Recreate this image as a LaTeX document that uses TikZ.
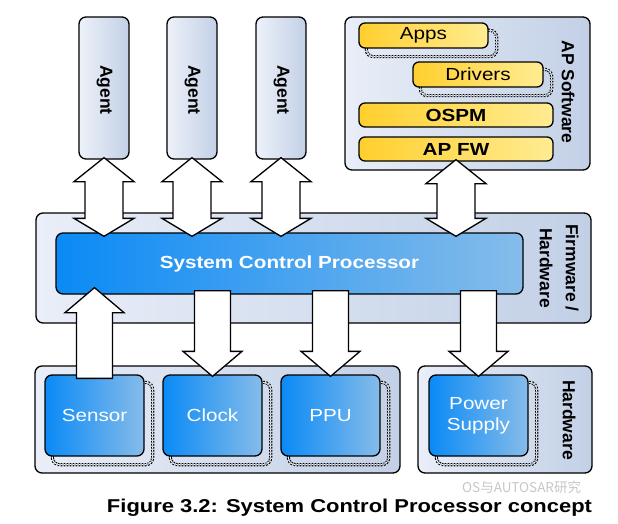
\documentclass[tikz,border=0pt]{standalone}
\usepackage{fontspec}
\setmainfont{Liberation Sans}
\newfontfamily\hfont{Liberation Sans}[FakeStretch=1.18]
\newfontfamily\cjk{Noto Sans CJK SC}
\usetikzlibrary{calc}
\definecolor{contL}{HTML}{E9EEF8}
\definecolor{contR}{HTML}{C2D0E6}
\definecolor{blueL}{HTML}{0A8AF5}
\definecolor{blueR}{HTML}{86BCEA}
\definecolor{yelL}{HTML}{FFCF2E}
\definecolor{yelR}{HTML}{FFEC92}
\pgfdeclarelayer{bg}
\pgfdeclarelayer{mid}
\pgfdeclarelayer{front}
\pgfsetlayers{bg,mid,main,front}
\newcommand{\dblarrow}[2]{%
  \draw[arrowshape] let \p1=(#1.south), \p2=(#2.north) in
    (\x1,\y1+2pt) -- (\x1+30pt,\y1-22pt) -- (\x1+19pt,\y1-22pt) -- (\x1+19pt,\y2+14pt)
    -- (\x1+30pt,\y2+14pt) -- (\x1,\y2-4pt) -- (\x1-30pt,\y2+14pt) -- (\x1-19pt,\y2+14pt)
    -- (\x1-19pt,\y1-22pt) -- (\x1-30pt,\y1-22pt) -- cycle;}
\newcommand{\downarrowshape}[2]{%
  \draw[arrowshape] let \p1=(#1.south), \p2=(#2.north) in
    (\x2-18pt,\y1+4pt) -- (\x2+18pt,\y1+4pt) -- (\x2+18pt,\y2+23pt) -- (\x2+29.5pt,\y2+23pt)
    -- (\x2,\y2-2pt) -- (\x2-29.5pt,\y2+23pt) -- (\x2-18pt,\y2+23pt) -- cycle;}
\newcommand{\uparrowshape}[2]{%
  \draw[arrowshape] let \p1=(#1.north), \p2=(#2.south) in
    (\x1-18pt,\y1-4pt) -- (\x1+18pt,\y1-4pt) -- (\x1+18pt,\y2-18pt) -- (\x1+29.5pt,\y2-18pt)
    -- (\x1,\y2+7pt) -- (\x1-29.5pt,\y2-18pt) -- (\x1-18pt,\y2-18pt) -- cycle;}
\newcommand{\shadowbox}[1]{%
  \draw[shadowline] ([shift={(8,8)}]#1.south west) rectangle ([shift={(8,8)}]#1.north east);}
\begin{document}
\begin{tikzpicture}[x=1pt,y=-1pt,
  box/.style={draw=black, line width=1.3pt, rounded corners=7pt, inner sep=0pt},
  cont/.style={box, left color=contL, right color=contR},
  agentbox/.style={box, left color=contL!80!white, right color=contR, minimum width=50pt, minimum height=142pt},
  bluebox/.style={box, left color=blueL, right color=blueR, text=white, font=\hfont\fontsize{17.5}{21}\selectfont, align=center},
  hwbox/.style={bluebox, minimum width=99pt, minimum height=81pt},
  yelbox/.style={box, rounded corners=6pt, left color=yelL, right color=yelR, font=\hfont\fontsize{17.5}{21}\selectfont},
  rot/.style={rotate=-90, font=\fontsize{17.5}{26}\selectfont\bfseries, align=center, inner sep=0pt},
  shadowline/.style={draw=black, line width=1.1pt, double=white, double distance=1pt, dash pattern=on 1.6pt off 1.4pt, rounded corners=7pt},
  arrowshape/.style={draw=black, fill=white, line width=1.3pt, line join=miter}]
\useasboundingbox (0,0) rectangle (618,524);

\begin{pgfonlayer}{bg}
\fill[white] (0,0) rectangle (618,524);
\node[cont, minimum width=245pt, minimum height=153pt] (apsw) at (467.5,93.5) {};
\node[cont, minimum width=555pt, minimum height=110pt] (fwhw) at (313.5,268) {};
\node[cont, minimum width=365pt, minimum height=107pt] (hwl) at (217.5,419.5) {};
\node[cont, minimum width=174pt, minimum height=107pt] (hwr) at (505,419.5) {};
\end{pgfonlayer}

% agents
\node[agentbox] (agent1) at (104,88) {};
\node[agentbox] (agent2) at (192,88) {};
\node[agentbox] (agent3) at (281,88) {};
\node[rot] (agent1t) at (104.5,90) {Agent};
\node[rot] (agent2t) at (192.5,90) {Agent};
\node[rot] (agent3t) at (281.5,90) {Agent};

% AP software
\node[yelbox, minimum width=129pt, minimum height=25pt] (apps) at (423.5,35.5) {Apps};
\node[yelbox, minimum width=130pt, minimum height=25pt] (drivers) at (478,74.5) {Drivers};
\node[yelbox, minimum width=194pt, minimum height=24pt, font=\hfont\bfseries\fontsize{17.5}{21}\selectfont] (ospm) at (456,115) {OSPM};
\node[yelbox, minimum width=194pt, minimum height=24pt, font=\hfont\bfseries\fontsize{17.5}{21}\selectfont] (apfw) at (456,149) {AP FW};
\node[rot] (apswt) at (568,92) {AP Software};

% SCP
\node[bluebox, minimum width=467pt, minimum height=61pt, font=\hfont\bfseries\fontsize{17.5}{21}\selectfont] (scp) at (289.5,263.5) {\raisebox{-1pt}{System Control Processor}};
\node[rot] (fwhwt) at (559,268) {Firmware /\\Hardware};

% hardware
\node[hwbox] (sensor) at (94.5,415.5) {Sensor};
\node[hwbox] (clock) at (212.5,415.5) {Clock};
\node[hwbox] (ppu) at (330.5,415.5) {PPU};
\node[hwbox] (power) at (478.5,415.5) {Power\\Supply};
\node[rot] (hwt) at (569,420) {Hardware};

\begin{pgfonlayer}{mid}
\shadowbox{apps}
\shadowbox{drivers}
\shadowbox{sensor}
\shadowbox{clock}
\shadowbox{ppu}
\shadowbox{power}
\end{pgfonlayer}

\begin{pgfonlayer}{front}
\dblarrow{agent1}{scp}
\dblarrow{agent2}{scp}
\dblarrow{agent3}{scp}
\dblarrow{apfw}{scp}
\downarrowshape{scp}{clock}
\downarrowshape{scp}{ppu}
\downarrowshape{scp}{power}
\uparrowshape{sensor}{scp}
\end{pgfonlayer}

% caption
\node[anchor=base, inner sep=0pt, font=\hfont\bfseries\fontsize{18.6}{22}\selectfont] (caption) at (349.5,512) {Figure 3.2: System Control Processor concept};
\node[anchor=west, inner sep=0pt, text=gray!55, opacity=0.8, font=\cjk\fontsize{13.5}{16}\selectfont] (wm) at (462,487) {OS与AUTOSAR研究};
\end{tikzpicture}
\end{document}
